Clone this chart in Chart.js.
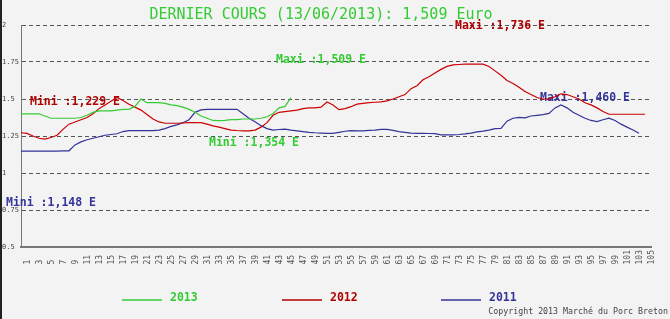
<!DOCTYPE html>
<html>
<head>
<meta charset="utf-8">
<script src="https://cdn.jsdelivr.net/npm/chart.js@4/dist/chart.umd.min.js"></script>
<style>
  html, body { margin: 0; padding: 0; background: #f3f3f3; }
  #wrap { width: 670px; height: 319px; }
</style>
</head>
<body>
<div id="wrap"><canvas id="myChart" width="670" height="319"></canvas></div>
<script>
// market sessions (x axis)
const sessions = [
  1, 2, 3, 4, 5, 6, 7, 8, 9, 10, 11, 12, 13, 14, 15, 16, 17, 18, 19, 20,
  21, 22, 23, 24, 25, 26, 27, 28, 29, 30, 31, 32, 33, 34, 35, 36, 37, 38, 39, 40,
  41, 42, 43, 44, 45, 46, 47, 48, 49, 50, 51, 52, 53, 54, 55, 56, 57, 58, 59, 60,
  61, 62, 63, 64, 65, 66, 67, 68, 69, 70, 71, 72, 73, 74, 75, 76, 77, 78, 79, 80,
  81, 82, 83, 84, 85, 86, 87, 88, 89, 90, 91, 92, 93, 94, 95, 96, 97, 98, 99, 100,
  101, 102, 103, 104, 105, 106
];

const yTicks = [0.5, 0.75, 1, 1.25, 1.5, 1.75, 2];

const prices2013 = [
  1.40, 1.40, 1.40, 1.40, 1.385, 1.37, 1.37, 1.37, 1.37, 1.37,
  1.375, 1.39, 1.41, 1.42, 1.42, 1.42, 1.425, 1.43, 1.43, 1.45,
  1.50, 1.475, 1.475, 1.475, 1.47, 1.46, 1.455, 1.445, 1.43, 1.41,
  1.385, 1.37, 1.355, 1.354, 1.355, 1.36, 1.36, 1.365, 1.365, 1.365,
  1.37, 1.38, 1.40, 1.44, 1.45, 1.509
];

const prices2012 = [
  1.272, 1.268, 1.25, 1.235, 1.229, 1.24, 1.255, 1.295, 1.33, 1.345,
  1.36, 1.375, 1.40, 1.435, 1.46, 1.485, 1.51, 1.49, 1.465, 1.445,
  1.425, 1.395, 1.365, 1.345, 1.336, 1.336, 1.336, 1.338, 1.34, 1.34,
  1.34, 1.33, 1.318, 1.31, 1.30, 1.29, 1.287, 1.285, 1.285, 1.29,
  1.31, 1.34, 1.39, 1.41, 1.415, 1.42, 1.425, 1.435, 1.44, 1.44,
  1.445, 1.48, 1.46, 1.428, 1.435, 1.448, 1.465, 1.47, 1.475, 1.478,
  1.48, 1.487, 1.50, 1.515, 1.53, 1.57, 1.59, 1.63, 1.65, 1.675,
  1.70, 1.72, 1.73, 1.733, 1.735, 1.736, 1.736, 1.735, 1.72, 1.69,
  1.66, 1.625, 1.605, 1.58, 1.55, 1.53, 1.51, 1.50, 1.50, 1.515,
  1.535, 1.53, 1.515, 1.50, 1.475, 1.46, 1.44, 1.415, 1.397, 1.397,
  1.397, 1.397, 1.397, 1.397, 1.397
];

const prices2011 = [
  1.148, 1.148, 1.148, 1.148, 1.148, 1.148, 1.148, 1.15, 1.15, 1.19,
  1.21, 1.225, 1.235, 1.245, 1.255, 1.26, 1.265, 1.28, 1.286, 1.286,
  1.286, 1.286, 1.286, 1.29, 1.30, 1.315, 1.325, 1.34, 1.36, 1.41,
  1.426, 1.43, 1.43, 1.43, 1.43, 1.43, 1.43, 1.40, 1.37, 1.347,
  1.32, 1.30, 1.29, 1.294, 1.297, 1.29, 1.285, 1.28, 1.275, 1.272,
  1.27, 1.268, 1.268, 1.275, 1.282, 1.286, 1.285, 1.284, 1.288, 1.29,
  1.295, 1.295, 1.288, 1.28, 1.275, 1.27, 1.268, 1.268, 1.267, 1.266,
  1.258, 1.257, 1.258, 1.26, 1.264, 1.27, 1.278, 1.283, 1.29, 1.30,
  1.302, 1.35, 1.37, 1.376, 1.372, 1.385, 1.39, 1.395, 1.403, 1.44,
  1.46, 1.44, 1.41, 1.39, 1.37, 1.355, 1.347, 1.36, 1.37, 1.355,
  1.33, 1.31, 1.29, 1.268
];

const GREEN = "#33cc33";
const RED = "#cc0000";
const RED_TXT = "#b00000";
const BLUE = "#333399";
const MONO = "'DejaVu Sans Mono', 'Liberation Mono', monospace";

const fmt = (v) => v.toFixed(3).replace(".", ",");

// texts drawn on the canvas (title, min/max notes, legend, copyright)
const decorPlugin = {
  id: "decor",
  beforeDraw(chart) {
    const ctx = chart.ctx;
    ctx.save();
    ctx.fillStyle = "#f3f3f3";
    ctx.fillRect(0, 0, chart.width, chart.height);
    ctx.fillStyle = "#222";
    ctx.fillRect(0, 0, 2, chart.height);
    ctx.restore();
  },
  beforeDatasetsDraw(chart) {
    const ctx = chart.ctx;
    const a = chart.chartArea;
    ctx.save();
    ctx.textBaseline = "middle";
    ctx.textAlign = "left";

    ctx.font = "15px " + MONO;
    ctx.fillStyle = GREEN;
    ctx.textAlign = "center";
    ctx.fillText("DERNIER COURS (13/06/2013): " + fmt(prices2013[prices2013.length - 1]) + " Euro", 321, 15);

    ctx.textAlign = "left";
    ctx.font = "bold 11.5px " + MONO;
    const notes = [
      ["Maxi :" + fmt(Math.max(...prices2012)) + " E", RED_TXT, 455, a.top + 1],
      ["Maxi :" + fmt(Math.max(...prices2013)) + " E", GREEN, 276, a.top + 35],
      ["Mini :" + fmt(Math.min(...prices2012)) + " E", RED_TXT, 30, a.top + 77],
      ["Mini :" + fmt(Math.min(...prices2013)) + " E", GREEN, 209, a.top + 118],
      ["Maxi :" + fmt(Math.max(...prices2011)) + " E", BLUE, 540, a.top + 73],
      ["Mini :" + fmt(Math.min(...prices2011)) + " E", BLUE, 6, a.top + 178],
    ];
    notes.forEach(([t, c, x, y]) => {
      ctx.fillStyle = c;
      ctx.fillText(t, x, y);
    });
    ctx.restore();
  },
  afterDraw(chart) {
    const ctx = chart.ctx;
    ctx.save();
    // legend
    const items = [["2013", GREEN, 122], ["2012", RED_TXT, 282], ["2011", BLUE, 441]];
    ctx.font = "bold 11.5px " + MONO;
    ctx.textBaseline = "middle";
    items.forEach(([t, c, x]) => {
      ctx.strokeStyle = c;
      ctx.lineWidth = 1.5;
      ctx.beginPath();
      ctx.moveTo(x, 300);
      ctx.lineTo(x + 40, 300);
      ctx.stroke();
      ctx.fillStyle = c;
      ctx.fillText(t, x + 48, 298);
    });
    ctx.font = "8.3px " + MONO;
    ctx.fillStyle = "#444";
    ctx.textAlign = "right";
    ctx.fillText("Copyright 2013 Marché du Porc Breton", 668, 312);
    ctx.restore();
  },
};

const chartConfig = () => ({
  type: "line",
  data: {
    labels: sessions,
    datasets: [
      { label: "2013", data: prices2013, borderColor: GREEN, borderWidth: 1.2, pointRadius: 0, fill: false },
      { label: "2012", data: prices2012, borderColor: RED, borderWidth: 1.2, pointRadius: 0, fill: false },
      { label: "2011", data: prices2011, borderColor: BLUE, borderWidth: 1.2, pointRadius: 0, fill: false },
    ],
  },
  options: {
    responsive: false,
    animation: false,
    layout: { padding: { left: 2, top: 25, right: 19, bottom: 52 } },
    plugins: { legend: { display: false }, title: { display: false }, tooltip: { enabled: false } },
    scales: {
      x: {
        offset: false,
        grid: { display: false, drawTicks: false },
        border: { color: "#777", width: 2 },
        ticks: {
          autoSkip: false,
          minRotation: 90,
          maxRotation: 90,
          labelOffset: 7,
          padding: 3,
          color: "#555",
          font: { family: MONO, size: 8 },
          callback: (v, i) => (i % 2 === 0 ? String(sessions[i]).padEnd(3, " ") : ""),
        },
        afterFit: (s) => { s.height = 20; },
      },
      y: {
        min: yTicks[0],
        max: yTicks[yTicks.length - 1],
        afterBuildTicks: (s) => { s.ticks = yTicks.map((v) => ({ value: v })); },
        grid: {
          drawTicks: false,
          color: (c) => (c.tick && c.tick.value === yTicks[0] ? "rgba(0,0,0,0)" : "#555"),
        },
        border: { color: "#777", width: 1, dash: [4, 3] },
        ticks: {
          crossAlign: "far",
          padding: 0,
          color: "#444",
          font: { family: MONO, size: 7 },
          callback: (v) => String(v),
        },
        afterFit: (s) => { s.width = 19; },
      },
    },
  },
  plugins: [decorPlugin],
});

new Chart(document.getElementById("myChart"), chartConfig());
</script>
</body>
</html>
